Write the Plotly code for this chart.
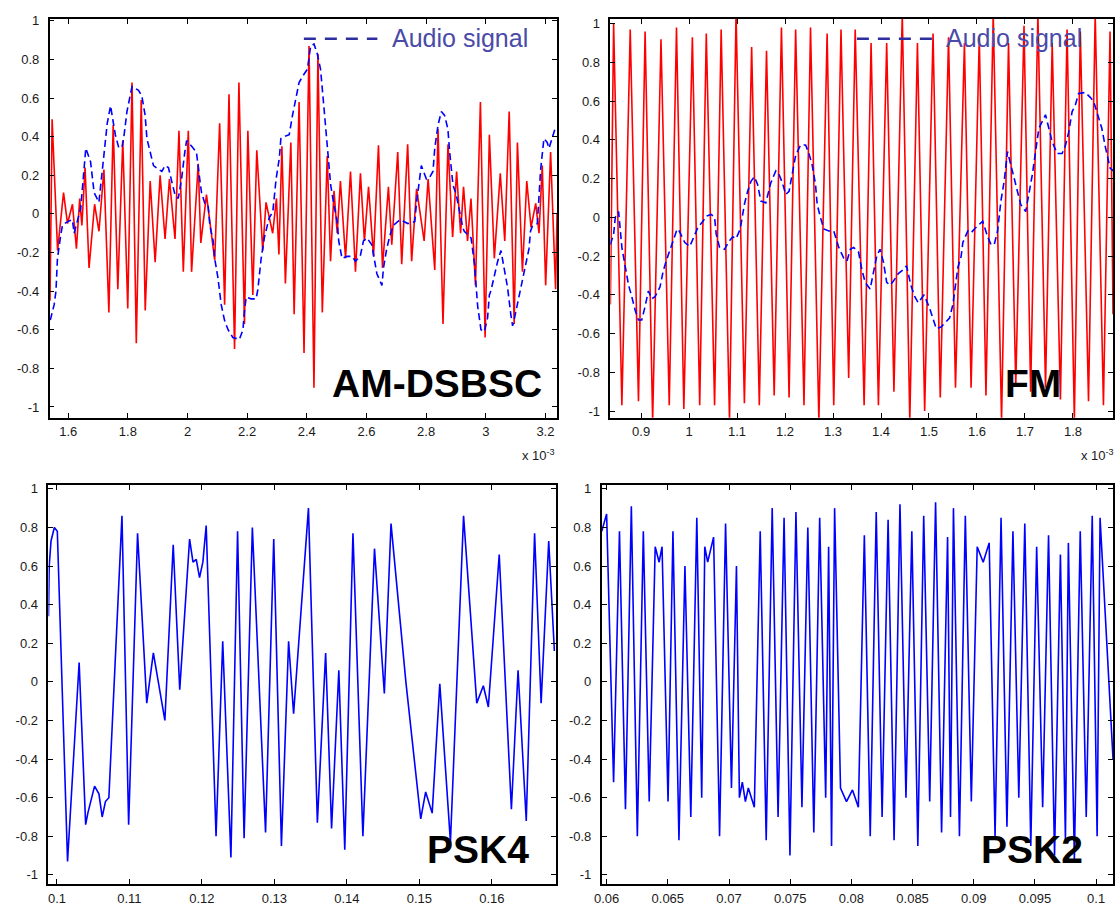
import plotly.graph_objects as go

# ---------------- AM-DSBSC (time in units of 1e-3 s) ----------------
am_audio_t = [1.540, 1.553, 1.559, 1.564, 1.575, 1.581, 1.598, 1.614, 1.620, 1.642, 1.659, 1.675,
              1.687, 1.703, 1.714, 1.725, 1.731, 1.742, 1.747, 1.758, 1.770, 1.781, 1.786, 1.797,
              1.814, 1.836, 1.847, 1.858, 1.864, 1.875, 1.886, 1.903, 1.914, 1.925, 1.936, 1.947,
              1.958, 1.969, 1.980, 1.991, 1.997, 2.014, 2.030, 2.041, 2.047, 2.058, 2.069, 2.075,
              2.086, 2.091, 2.102, 2.113, 2.124, 2.136, 2.152, 2.174, 2.186, 2.191, 2.197, 2.213,
              2.230, 2.236, 2.247, 2.258, 2.269, 2.274, 2.286, 2.297, 2.308, 2.313, 2.324, 2.341,
              2.352, 2.363, 2.374, 2.385, 2.402, 2.413, 2.424, 2.435, 2.446, 2.457, 2.463, 2.469,
              2.474, 2.480, 2.491, 2.502, 2.507, 2.518, 2.535, 2.552, 2.563, 2.579, 2.590, 2.602,
              2.618, 2.629, 2.635, 2.652, 2.657, 2.668, 2.679, 2.690, 2.713, 2.739, 2.762, 2.768,
              2.773, 2.784, 2.801, 2.812, 2.823, 2.829, 2.840, 2.851, 2.862, 2.873, 2.879, 2.884,
              2.890, 2.901, 2.912, 2.923, 2.928, 2.951, 2.962, 2.968, 2.973, 2.984, 2.995, 3.006,
              3.012, 3.017, 3.029, 3.040, 3.051, 3.062, 3.073, 3.084, 3.090, 3.095, 3.106, 3.117,
              3.128, 3.134, 3.145, 3.150, 3.156, 3.173, 3.178, 3.184, 3.195, 3.206, 3.212, 3.223,
              3.234]
am_audio_v = [-0.55, -0.47, -0.40, -0.23, -0.11, -0.057, -0.04, -0.03, -0.10, 0.03, 0.34, 0.27,
              0.11, 0.06, 0.22, 0.39, 0.47, 0.56, 0.51, 0.41, 0.34, 0.35, 0.39, 0.53,
              0.66, 0.64, 0.61, 0.51, 0.39, 0.32, 0.25, 0.23, 0.22, 0.25, 0.24, 0.17,
              0.10, 0.08, 0.18, 0.32, 0.38, 0.35, 0.32, 0.18, 0.11, 0.055, 0.046, -0.06,
              -0.14, -0.23, -0.33, -0.47, -0.55, -0.60, -0.64, -0.65, -0.60, -0.50, -0.43, -0.44,
              -0.44, -0.39, -0.23, -0.12, -0.06, -0.02, 0.01, 0.18, 0.29, 0.39, 0.40, 0.41,
              0.51, 0.59, 0.68, 0.71, 0.75, 0.87, 0.88, 0.83, 0.75, 0.56, 0.46, 0.35,
              0.27, 0.15, 0.046, -0.04, -0.14, -0.23, -0.22, -0.22, -0.245, -0.22, -0.14, -0.125,
              -0.16, -0.26, -0.31, -0.37, -0.28, -0.18, -0.11, -0.06, -0.03, -0.05, -0.04, 0.06,
              0.13, 0.25, 0.18, 0.19, 0.22, 0.34, 0.46, 0.53, 0.51, 0.44, 0.32, 0.22,
              0.15, 0.10, 0.01, -0.07, -0.09, -0.125, -0.26, -0.40, -0.48, -0.60, -0.61, -0.54,
              -0.42, -0.40, -0.31, -0.245, -0.19, -0.28, -0.38, -0.52, -0.58, -0.55, -0.47, -0.38,
              -0.31, -0.26, -0.18, -0.09, -0.065, -0.05, 0.08, 0.23, 0.39, 0.37, 0.34, 0.39,
              0.45]

am_mod_t = [1.539, 1.5461, 1.5644, 1.5844, 1.5977, 1.6143, 1.6276, 1.6386, 1.6459, 1.6566,
            1.6699, 1.6885, 1.7032, 1.7198, 1.7364, 1.7508, 1.7664, 1.7830, 1.7997, 1.8140,
            1.8283, 1.8449, 1.8583, 1.8749, 1.8915, 1.9082, 1.9248, 1.9395, 1.9581, 1.9714,
            1.9860, 2.0027, 2.0137, 2.0360, 2.0446, 2.0636, 2.0912, 2.1078, 2.1245, 2.1391,
            2.1578, 2.1724, 2.1910, 2.2024, 2.2190, 2.2323, 2.2523, 2.2633, 2.2856, 2.2982,
            2.3065, 2.3165, 2.3282, 2.3465, 2.3575, 2.3741, 2.3907, 2.4074, 2.4240, 2.4373,
            2.4520, 2.4686, 2.4796, 2.4913, 2.5019, 2.5127, 2.5299, 2.5465, 2.5632, 2.5798,
            2.5931, 2.6070, 2.6237, 2.6403, 2.6537, 2.6736, 2.6849, 2.7049, 2.7182, 2.7382,
            2.7515, 2.7681, 2.7934, 2.8067, 2.8290, 2.8400, 2.8566, 2.8733, 2.8889, 2.9022,
            2.9156, 2.9255, 2.9389, 2.9505, 2.9655, 2.9821, 2.9978, 3.0121, 3.0287, 3.0487,
            3.0637, 3.0786, 3.0953, 3.1062, 3.1229, 3.1375, 3.1518, 3.1675, 3.1785, 3.1895,
            3.2008, 3.2174, 3.2341, 3.2390]
am_mod_v = [-0.45, 0.49, -0.19, 0.11, -0.05, 0.05, -0.18, 0.08, -0.06, 0.24,
            -0.28, 0.05, -0.09, 0.23, -0.51, 0.46, -0.39, 0.38, -0.49, 0.68,
            -0.67, 0.59, -0.50, 0.17, -0.25, 0.20, -0.13, 0.18, -0.13, 0.43,
            -0.30, 0.43, -0.30, 0.26, -0.15, 0.10, -0.24, 0.47, -0.47, 0.62,
            -0.70, 0.68, -0.57, 0.43, -0.42, 0.33, -0.19, 0.06, -0.10, 0.08,
            -0.21, 0.35, -0.36, 0.37, -0.52, 0.58, -0.72, 0.87, -0.90, 0.83,
            -0.51, 0.30, -0.245, 0.12, -0.10, 0.17, -0.23, 0.22, -0.30, 0.21,
            -0.14, 0.14, -0.22, 0.355, -0.28, 0.14, -0.16, 0.32, -0.26, 0.36,
            -0.245, 0.13, -0.14, 0.18, -0.29, 0.44, -0.57, 0.36, -0.12, 0.22,
            -0.10, 0.14, -0.14, 0.08, -0.37, 0.58, -0.64, 0.41, -0.23, 0.21,
            -0.14, 0.53, -0.57, 0.37, -0.30, 0.17, -0.07, 0.055, -0.10, 0.25,
            -0.37, 0.32, -0.39, 0.0]

# ---------------- FM (time in units of 1e-3 s) ----------------
fm_audio_t = [0.8360, 0.8428, 0.8463, 0.8532, 0.8600, 0.8670, 0.8739, 0.8807, 0.8877, 0.8946,
              0.9014, 0.9084, 0.9152, 0.9221, 0.9291, 0.9394, 0.9463, 0.9531, 0.9635, 0.9738,
              0.9773, 0.9912, 1.0015, 1.0119, 1.0187, 1.0290, 1.0359, 1.0462, 1.0532, 1.0566,
              1.0636, 1.0739, 1.0843, 1.0911, 1.0979, 1.1050, 1.1083, 1.1153, 1.1221, 1.1290,
              1.1360, 1.1428, 1.1497, 1.1600, 1.1703, 1.1807, 1.1877, 1.1945, 1.2014, 1.2084,
              1.2152, 1.2221, 1.2324, 1.2428, 1.2498, 1.2566, 1.2635, 1.2670, 1.2738, 1.2808,
              1.2912, 1.3015, 1.3119, 1.3222, 1.3291, 1.3360, 1.3429, 1.3532, 1.3601, 1.3669,
              1.3773, 1.3843, 1.3911, 1.3979, 1.4050, 1.4118, 1.4186, 1.4256, 1.4360, 1.4463,
              1.4532, 1.4621, 1.4704, 1.4774, 1.4842, 1.4898, 1.5014, 1.5084, 1.5152, 1.5256,
              1.5359, 1.5428, 1.5498, 1.5566, 1.5601, 1.5670, 1.5705, 1.5809, 1.5877, 1.5945,
              1.6119, 1.6222, 1.6291, 1.6360, 1.6429, 1.6498, 1.6566, 1.6636, 1.6704, 1.6773,
              1.6843, 1.6911, 1.7015, 1.7083, 1.7153, 1.7221, 1.7290, 1.7428, 1.7497, 1.7567,
              1.7670, 1.7774, 1.7842, 1.7911, 1.7981, 1.8049, 1.8118, 1.8256, 1.8360, 1.8429,
              1.8498, 1.8601, 1.8670, 1.8773, 1.8842]
fm_audio_v = [-0.14, -0.087, 0.0, 0.03, -0.155, -0.26, -0.35, -0.41, -0.48, -0.53,
              -0.53, -0.46, -0.38, -0.42, -0.41, -0.36, -0.275, -0.22, -0.14, -0.07,
              -0.06, -0.13, -0.15, -0.087, -0.05, -0.02, 0.007, 0.015, 0.0, -0.087,
              -0.155, -0.165, -0.12, -0.10, -0.11, -0.07, -0.036, 0.067, 0.135, 0.186,
              0.21, 0.17, 0.084, 0.075, 0.178, 0.24, 0.22, 0.178, 0.118, 0.135,
              0.22, 0.32, 0.374, 0.374, 0.33, 0.27, 0.17, 0.067, 0.0, -0.06,
              -0.07, -0.07, -0.155, -0.21, -0.225, -0.165, -0.155, -0.18, -0.27, -0.335,
              -0.37, -0.29, -0.20, -0.165, -0.23, -0.335, -0.35, -0.33, -0.29, -0.27,
              -0.25, -0.35, -0.41, -0.44, -0.42, -0.40, -0.47, -0.53, -0.575, -0.565,
              -0.54, -0.52, -0.45, -0.34, -0.26, -0.20, -0.13, -0.07, -0.08, -0.06,
              -0.02, -0.10, -0.14, -0.14, -0.07, 0.084, 0.186, 0.34, 0.27, 0.20,
              0.135, 0.067, 0.03, 0.118, 0.22, 0.34, 0.46, 0.53, 0.46, 0.39,
              0.33, 0.33, 0.37, 0.44, 0.545, 0.58, 0.64, 0.645, 0.62, 0.60,
              0.545, 0.46, 0.37, 0.255, 0.24]

fm_mod_t = [0.8360, 0.8428, 0.8600, 0.8774, 0.8946, 0.9084, 0.9241, 0.9415, 0.9587, 0.9738,
            0.9891, 1.0069, 1.0222, 1.0359, 1.0532, 1.0669, 1.0843, 1.0979, 1.1153, 1.1304,
            1.1464, 1.1614, 1.1774, 1.1925, 1.2084, 1.2221, 1.2395, 1.2531, 1.2705, 1.2877,
            1.3015, 1.3166, 1.3326, 1.3462, 1.3648, 1.3793, 1.3946, 1.4118, 1.4269, 1.4443,
            1.4600, 1.4759, 1.4910, 1.5084, 1.5235, 1.5407, 1.5552, 1.5738, 1.5877, 1.6048,
            1.6187, 1.6338, 1.6512, 1.6657, 1.6808, 1.6980, 1.7118, 1.7269, 1.7428, 1.7567,
            1.7739, 1.7877, 1.8029, 1.8153, 1.8324, 1.8463, 1.8635, 1.8773, 1.8835]
fm_mod_v = [-0.45, 1.00, -0.97, 0.97, -0.95, 0.96, -1.05, 0.92, -0.97, 0.98,
            -0.99, 0.93, -0.97, 0.95, -0.97, 0.97, -1.05, 1.05, -0.96, 0.88,
            -0.97, 0.86, -0.92, 0.98, -0.93, 0.97, -0.97, 0.98, -1.05, 0.95,
            -0.97, 0.97, -0.83, 0.97, -0.97, 0.90, -0.97, 0.90, -0.90, 1.05,
            -1.05, 0.90, -1.00, 0.95, -0.93, 0.93, -0.88, 0.90, -0.88, 0.93,
            -0.92, 1.05, -1.05, 0.90, -0.87, 0.99, -0.90, 1.05, -0.88, 0.90,
            -0.94, 0.97, -1.05, 0.96, -0.95, 1.05, -0.97, 0.96, -0.50]

# ---------------- PSK4 (time in s) ----------------
psk4_t = [0.09883, 0.09893, 0.09918, 0.09964, 0.10005, 0.10146, 0.10306, 0.10396, 0.10426, 0.10488,
          0.10519, 0.10579, 0.10624, 0.10669, 0.10716, 0.10897, 0.10989, 0.11112, 0.11239, 0.11330,
          0.11489, 0.11604, 0.11694, 0.11830, 0.11877, 0.11922, 0.11967, 0.12013, 0.12059, 0.12195,
          0.12287, 0.12400, 0.12492, 0.12582, 0.12696, 0.12878, 0.12991, 0.13097, 0.13196, 0.13265,
          0.13470, 0.13593, 0.13707, 0.13789, 0.13889, 0.13971, 0.14084, 0.14221, 0.14381, 0.14517,
          0.14609, 0.14814, 0.15019, 0.15087, 0.15177, 0.15282, 0.15429, 0.15610, 0.15792, 0.15883,
          0.15952, 0.16102, 0.16270, 0.16362, 0.16475, 0.16590, 0.16680, 0.16785, 0.16863]
psk4_v = [0.34, 0.60, 0.73, 0.80, 0.78, -0.93, 0.10, -0.74, -0.68, -0.58,
          -0.54, -0.58, -0.70, -0.62, -0.60, 0.86, -0.74, 0.77, -0.11, 0.15,
          -0.20, 0.71, -0.04, 0.74, 0.62, 0.635, 0.54, 0.62, 0.81, -0.80,
          0.21, -0.91, 0.78, -0.81, 0.80, -0.78, 0.74, -0.85, 0.21, -0.165,
          0.90, -0.73, 0.15, -0.76, 0.06, -0.87, 0.77, -0.80, 0.69, -0.06,
          0.82, 0.0, -0.71, -0.57, -0.68, -0.01, -0.83, 0.86, -0.11, -0.02,
          -0.13, 0.66, -0.66, 0.06, -0.72, 0.77, -0.11, 0.73, 0.16]

# ---------------- PSK2 (time in s) ----------------
psk2_t = [0.05960, 0.06000, 0.06057, 0.06105, 0.06154, 0.06202, 0.06251, 0.06300, 0.06348, 0.06397,
          0.06429, 0.06453, 0.06502, 0.06542, 0.06591, 0.06640, 0.06688, 0.06737, 0.06777, 0.06802,
          0.06826, 0.06874, 0.06923, 0.06972, 0.07020, 0.07061, 0.07085, 0.07109, 0.07134, 0.07158,
          0.07207, 0.07255, 0.07304, 0.07353, 0.07401, 0.07450, 0.07498, 0.07547, 0.07596, 0.07644,
          0.07693, 0.07741, 0.07790, 0.07814, 0.07838, 0.07863, 0.07911, 0.07960, 0.08009, 0.08057,
          0.08106, 0.08154, 0.08203, 0.08251, 0.08300, 0.08349, 0.08397, 0.08446, 0.08494, 0.08543,
          0.08591, 0.08640, 0.08688, 0.08737, 0.08786, 0.08810, 0.08834, 0.08883, 0.08931, 0.08980,
          0.09028, 0.09077, 0.09126, 0.09174, 0.09223, 0.09271, 0.09320, 0.09368, 0.09417, 0.09466,
          0.09514, 0.09563, 0.09611, 0.09660, 0.09708, 0.09749, 0.09773]
psk2_v = [0.78, 0.87, -0.52, 0.78, -0.66, 0.91, -0.80, 0.78, -0.62, 0.70,
          0.62, 0.70, -0.62, 0.78, -0.82, 0.60, -0.70, 0.85, -0.60, 0.70,
          0.62, 0.75, -0.80, 0.82, -0.55, 0.60, -0.60, -0.52, -0.62, -0.55,
          -0.65, 0.78, -0.82, 0.90, -0.70, 0.85, -0.90, 0.88, -0.65, 0.80,
          -0.78, 0.85, -0.60, 0.70, -0.85, 0.90, -0.55, -0.62, -0.56, -0.65,
          0.76, -0.80, 0.88, -0.70, 0.84, -0.82, 0.92, -0.60, 0.78, -0.85,
          0.86, -0.62, 0.93, -0.78, 0.75, -0.70, 0.90, -0.80, 0.86, -0.62,
          0.70, 0.62, 0.72, -0.80, 0.85, -0.75, 0.78, -0.60, 0.82, -0.85,
          0.70, -0.65, 0.76, -0.90, 0.66, -0.82, 0.72]
psk2_t += [0.09822, 0.09870, 0.09919, 0.09968, 0.10008, 0.10032]
psk2_v += [-0.92, 0.78, -0.70, 0.86, -0.80, 0.85]
psk2_t += [0.10138]
psk2_v += [-0.40]

# ---------------- tick labels ----------------
y_ticks = [1, 0.8, 0.6, 0.4, 0.2, 0, -0.2, -0.4, -0.6, -0.8, -1]
y_labels = ["1", "0.8", "0.6", "0.4", "0.2", "0", "-0.2", "-0.4", "-0.6", "-0.8", "-1"]
am_ticks = [1.6, 1.8, 2.0, 2.2, 2.4, 2.6, 2.8, 3.0, 3.2]
am_labels = ["1.6", "1.8", "2", "2.2", "2.4", "2.6", "2.8", "3", "3.2"]
fm_ticks = [0.9, 1.0, 1.1, 1.2, 1.3, 1.4, 1.5, 1.6, 1.7, 1.8]
fm_labels = ["0.9", "1", "1.1", "1.2", "1.3", "1.4", "1.5", "1.6", "1.7", "1.8"]
psk4_ticks = [0.10, 0.11, 0.12, 0.13, 0.14, 0.15, 0.16]
psk4_labels = ["0.1", "0.11", "0.12", "0.13", "0.14", "0.15", "0.16"]
psk2_ticks = [0.06, 0.065, 0.07, 0.075, 0.08, 0.085, 0.09, 0.095, 0.10]
psk2_labels = ["0.06", "0.065", "0.07", "0.075", "0.08", "0.085", "0.09", "0.095", "0.1"]

RED = "#ff0000"
BLUE = "#0000ff"
TICK_FONT = dict(family="Liberation Sans, Arial, sans-serif", size=13, color="#1a1a1a")

fig = go.Figure()

# AM-DSBSC panel
fig.add_trace(go.Scatter(x=am_mod_t, y=am_mod_v, mode="lines", line=dict(color=RED, width=1.6),
                         xaxis="x", yaxis="y", showlegend=False, hoverinfo="skip"))
fig.add_trace(go.Scatter(x=am_audio_t, y=am_audio_v, mode="lines",
                         line=dict(color=BLUE, width=1.6, dash="7px,4px"),
                         xaxis="x", yaxis="y", showlegend=False, hoverinfo="skip"))
# FM panel
fig.add_trace(go.Scatter(x=fm_mod_t, y=fm_mod_v, mode="lines", line=dict(color=RED, width=1.6),
                         xaxis="x2", yaxis="y2", showlegend=False, hoverinfo="skip"))
fig.add_trace(go.Scatter(x=fm_audio_t, y=fm_audio_v, mode="lines",
                         line=dict(color=BLUE, width=1.6, dash="7px,4px"),
                         xaxis="x2", yaxis="y2", showlegend=False, hoverinfo="skip"))
# PSK4 panel
fig.add_trace(go.Scatter(x=psk4_t, y=psk4_v, mode="lines", line=dict(color=BLUE, width=1.6),
                         xaxis="x3", yaxis="y3", showlegend=False, hoverinfo="skip"))
# PSK2 panel
fig.add_trace(go.Scatter(x=psk2_t, y=psk2_v, mode="lines", line=dict(color=BLUE, width=1.6),
                         xaxis="x4", yaxis="y4", showlegend=False, hoverinfo="skip"))


def xax(domain, rng, vals, labels, anchor):
    return dict(domain=domain, range=rng, tickvals=vals, ticktext=labels, anchor=anchor,
                ticks="inside", ticklen=5, tickwidth=1, tickcolor="black",
                showline=True, linecolor="black", linewidth=1.6, mirror="ticks",
                showgrid=False, zeroline=False, tickfont=TICK_FONT, ticklabelstandoff=1)


def yax(domain, rng, anchor):
    return dict(domain=domain, range=rng, tickvals=y_ticks, ticktext=y_labels, anchor=anchor,
                ticks="inside", ticklen=5, tickwidth=1, tickcolor="black",
                showline=True, linecolor="black", linewidth=1.6, mirror="ticks",
                showgrid=False, zeroline=False, tickfont=TICK_FONT, ticklabelstandoff=6)


W, H = 1118, 907
top_dom = [1 - 415 / H, 1 - 13 / H]
bot_dom = [1 - 885 / H, 1 - 482.7 / H]

fig.update_layout(
    width=W, height=H, margin=dict(l=0, r=0, t=0, b=0),
    paper_bgcolor="white", plot_bgcolor="white",
    xaxis=xax([42 / W, 553 / W], [1.538, 3.239], am_ticks, am_labels, "y"),
    yaxis=yax(top_dom, [-1.056, 1.01], "x"),
    xaxis2=xax([606.7 / W, 1113 / W], [0.836, 1.8835], fm_ticks, fm_labels, "y2"),
    yaxis2=yax(top_dom, [-1.035, 1.025], "x2"),
    xaxis3=xax([40.7 / W, 551.7 / W], [0.09882, 0.16882], psk4_ticks, psk4_labels, "y3"),
    yaxis3=yax(bot_dom, [-1.048, 1.02], "x3"),
    xaxis4=xax([598 / W, 1113 / W], [0.0596, 0.10138], psk2_ticks, psk2_labels, "y4"),
    yaxis4=yax(bot_dom, [-1.048, 1.02], "x4"),
)

BIG = dict(family="Liberation Sans, Arial, sans-serif", size=39, color="black")
LEG = dict(family="Liberation Sans, Arial, sans-serif", size=25, color="#4a4aa8")
SMALL = dict(family="Liberation Sans, Arial, sans-serif", size=13, color="#1a1a1a")

annotations = [
    dict(text="<b>AM-DSBSC</b>", x=540 / W, y=1 - 404 / H, xanchor="right", yanchor="bottom"),
    dict(text="<b>FM</b>", x=1063 / W, y=1 - 404 / H, xanchor="right", yanchor="bottom"),
    dict(text="<b>PSK4</b>", x=527 / W, y=1 - 874 / H, xanchor="right", yanchor="bottom"),
    dict(text="<b>PSK2</b>", x=1085 / W, y=1 - 874 / H, xanchor="right", yanchor="bottom"),
]
for a in annotations:
    a.update(xref="paper", yref="paper", showarrow=False, font=BIG)

for x0, txt in [(385, "Audio signal"), (943, "Audio signal")]:
    annotations.append(dict(text=txt, x=x0 / W, y=1 - 32 / H, xref="paper", yref="paper",
                            xanchor="left", yanchor="middle", showarrow=False, font=LEG))
for xr in [553, 1116]:
    annotations.append(dict(text="x 10<sup>-3</sup>", x=xr / W, y=1 - 452 / H, xref="paper",
                            yref="paper", xanchor="right", yanchor="middle", showarrow=False,
                            font=SMALL))
fig.update_layout(annotations=annotations)

shapes = []
for x0, x1 in [(298, 372), (855, 932)]:
    shapes.append(dict(type="line", xref="paper", yref="paper", x0=x0 / W, x1=x1 / W,
                       y0=1 - 33 / H, y1=1 - 33 / H,
                       line=dict(color="#2e2ea0", width=2.5, dash="12px,9px")))
fig.update_layout(shapes=shapes)

fig.write_html("out.html")
